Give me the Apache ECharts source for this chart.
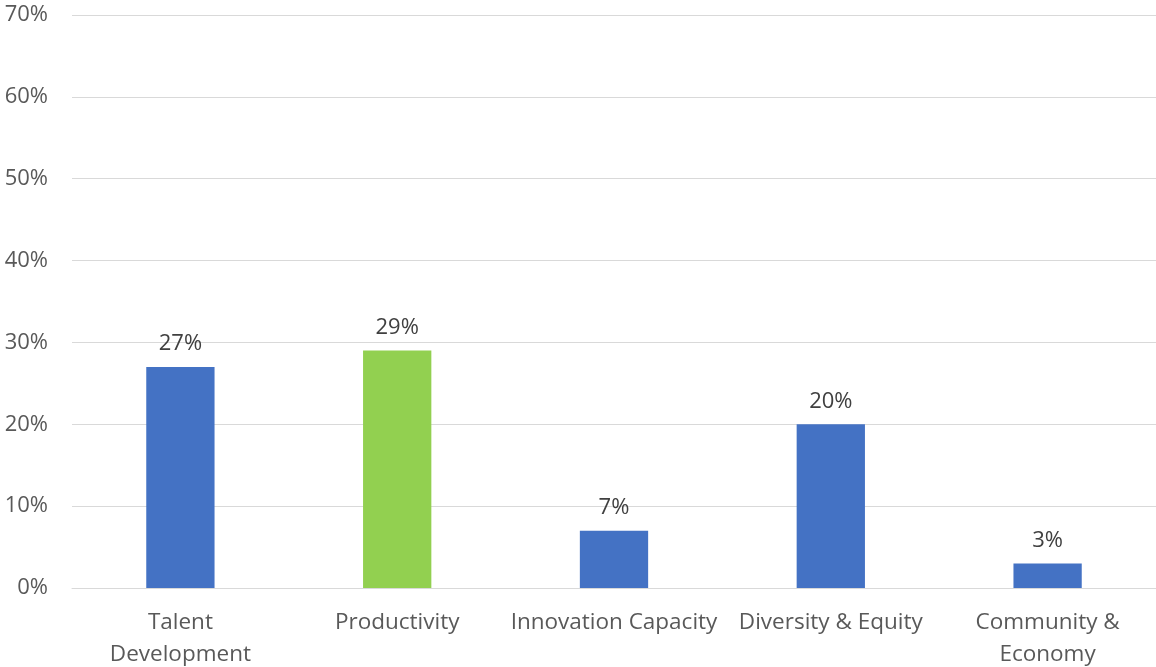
<!DOCTYPE html>
<html>
<head>
<meta charset="utf-8">
<script src="https://cdn.jsdelivr.net/npm/echarts@6/dist/echarts.min.js"></script>
<style>html,body{margin:0;padding:0;background:#fff;}#c{width:1156px;height:667px;}</style>
</head>
<body>
<div id="c"></div>
<script>
var categories = ["Talent\nDevelopment", "Productivity", "Innovation Capacity", "Diversity & Equity", "Community &\nEconomy"];
var values = [27, 29, 7, 20, 3];
var barColors = ["#4472C4", "#92D050", "#4472C4", "#4472C4", "#4472C4"];
var yTicks = [0, 10, 20, 30, 40, 50, 60, 70];

var chart = echarts.init(document.getElementById('c'));
chart.setOption({
  animation: false,
  grid: {left: 72, right: 0, top: 15, bottom: 79, containLabel: false, outerBoundsMode: 'none'},
  xAxis: {
    type: 'category',
    data: categories,
    axisLine: {lineStyle: {color: '#d9d9d9', width: 1}},
    axisTick: {show: false},
    axisLabel: {fontFamily: 'Open Sans', fontSize: 22.5, color: '#595959', lineHeight: 32, margin: 19, interval: 0}
  },
  yAxis: {
    type: 'value',
    min: yTicks[0], max: yTicks[yTicks.length - 1], interval: 10,
    axisLine: {show: false},
    axisTick: {show: false},
    splitLine: {lineStyle: {color: '#d9d9d9', width: 1}},
    axisLabel: {fontFamily: 'Open Sans', fontSize: 22, color: '#595959', margin: 24, formatter: function(v){ return v + '%'; }}
  },
  series: [{
    type: 'bar',
    barWidth: '31.5%',
    data: values.map(function(v, i){ return {value: v, itemStyle: {color: barColors[i]}}; }),
    label: {show: true, position: 'top', distance: 12, fontFamily: 'Open Sans', fontSize: 22, color: '#404040', formatter: '{c}%'}
  }]
});
</script>
</body>
</html>
